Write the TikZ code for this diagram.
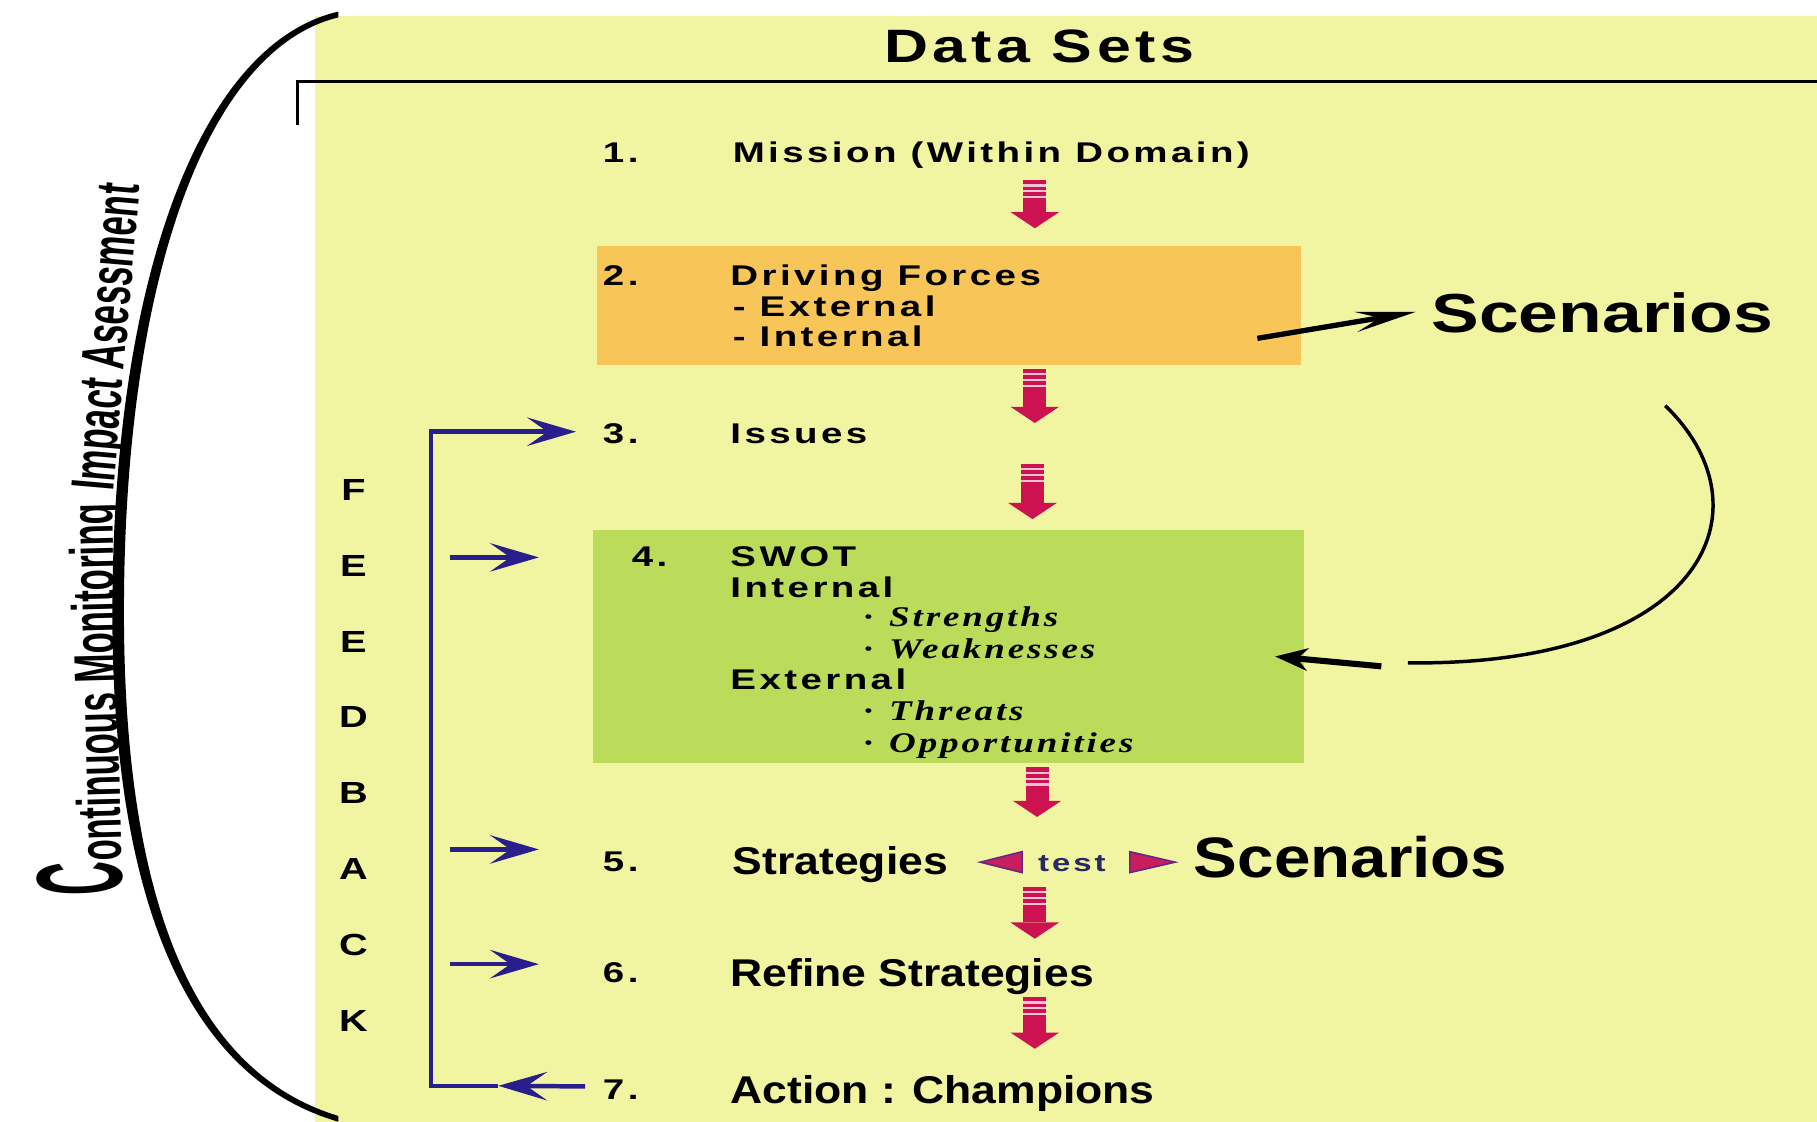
\documentclass[tikz,border=0pt]{standalone}
\usepackage{fontspec}
\setmainfont{Liberation Sans}
\newfontfamily\itemfont[FakeStretch=1.35,LetterSpace=12]{Liberation Sans}
\newfontfamily\titlefont[FakeStretch=1.3,LetterSpace=10]{Liberation Sans}
\newfontfamily\widefont[FakeStretch=1.3]{Liberation Sans}
\newfontfamily\rowfont[FakeStretch=1.15]{Liberation Sans}
\newfontfamily\swotfont[FakeStretch=1.3,LetterSpace=10]{Liberation Serif}
\newfontfamily\sidefont[FakeStretch=0.57]{Liberation Sans}
\newfontfamily\bigcfont[FakeStretch=0.38]{Liberation Sans}
\newcommand\bigcstyle{\bigcfont\bfseries\fontsize{60}{60}\selectfont}
\newcommand\sidestyle{\sidefont\bfseries\fontsize{30}{32}\selectfont}
\usetikzlibrary{arrows.meta,calc,fit}

\definecolor{bgyellow}{RGB}{241,244,160}
\definecolor{boxorange}{RGB}{248,198,88}
\definecolor{boxgreen}{RGB}{186,220,90}
\definecolor{arrred}{RGB}{205,18,82}
\definecolor{fbblue}{RGB}{40,30,140}
\definecolor{trifill}{RGB}{200,30,95}
\definecolor{triedge}{RGB}{100,40,130}
\definecolor{testblue}{RGB}{40,40,100}

\tikzset{
  item/.style={anchor=base west,inner sep=0pt,font=\itemfont\bfseries\fontsize{14}{16}\selectfont},
  rowitem/.style={anchor=base west,inner sep=0pt,font=\rowfont\bfseries\fontsize{19}{22}\selectfont},
  swotitem/.style={anchor=base west,inner sep=0pt,font=\swotfont\bfseries\itshape\fontsize{14}{16}\selectfont},
  fbletter/.style={anchor=base,inner sep=0pt,font=\widefont\bfseries\fontsize{15}{17}\selectfont},
  sidetext/.style={anchor=base west,inner sep=0pt},
  fbline/.style={draw=fbblue,line width=2.2pt},
  fbtip/.style={-{Stealth[length=24pt,width=14pt,inset=10pt]}},
  blackline/.style={draw=black,line width=1.7pt},
}

\begin{document}
\begin{tikzpicture}[x=0.02cm,y=-0.02cm]
	\useasboundingbox (0,0) rectangle (1568,968);
	\fill[white] (0,0) rectangle (1568,968);
	\fill[bgyellow] (272,14) rectangle (1568,968);
	% title and rule
	\node[anchor=base,inner sep=0pt,font=\titlefont\bfseries\fontsize{23}{26}\selectfont] (title) at (897,54) {Data Sets};
	\draw[line width=1.4pt] (257,108) -- (257,70) -- (1568,70);
	% boxes
	\node[fit={(515,212) (1123,315)},fill=boxorange,inner sep=0pt] (box2) {};
	\node[fit={(512,457) (1125,658)},fill=boxgreen,inner sep=0pt] (box4) {};
	% steps
	\node[item] (n1) at (520,140) {1.};
	\node[item] (t1) at (632,140) {Mission (Within Domain)};
	\node[item] (n2) at (520,246) {2.};
	\node[item] (t2) at (630,246) {Driving Forces};
	\node[item] (t2a) at (632,273) {- External};
	\node[item] (t2b) at (632,299) {- Internal};
	\node[item] (n3) at (520,383) {3.};
	\node[item] (t3) at (630,383) {Issues};
	\node[item] (n4) at (545,489) {4.};
	\node[item] (t4) at (630,489) {SWOT};
	\node[item] (t4a) at (630,516) {Internal};
	\node[item] (t4b) at (630,595) {External};
	\foreach \yy/\word in {541/Strengths,568/Weaknesses,622/Threats,649/Opportunities}{
		\node[swotitem] (sb-\word) at (745,\yy) {·};
		\node[swotitem] (sw-\word) at (767,\yy) {\word};
	}
	\node[item] (n5) at (520,752) {5.};
	\node[rowitem] (t5) at (632,755) {Strategies};
	\node[item] (n6) at (520,848) {6.};
	\node[rowitem] (t6) at (630,851) {Refine Strategies};
	\node[item] (n7) at (520,949) {7.};
	\node[rowitem] (t7) at (630,952) {Action : Champions};
	% red step arrows
	\foreach \ax/\at/\ab in {893/155/197, 893/318/365, 891/400/448, 895/662/705, 893/765/810, 893/860/905}{
		\fill[arrred] (\ax-10,\at) rectangle (\ax+10,\ab-14);
		\fill[arrred] (\ax-21,\ab-14) -- (\ax+21,\ab-14) -- (\ax,\ab) -- cycle;
		\foreach \s in {4,9,14}
			\fill[arrred!25] (\ax-10,\at+\s) rectangle (\ax+10,\at+\s+2);
	}
	% test
	\node[anchor=base,inner sep=0pt,text=testblue,font=\itemfont\bfseries\fontsize{12}{14}\selectfont] (test) at (925,752) {test};
	\filldraw[fill=trifill,draw=triedge,line width=0.8pt] (846,744) -- (882,735) -- (882,753) -- cycle;
	\filldraw[fill=trifill,draw=triedge,line width=0.8pt] (1014,744) -- (975,735) -- (975,753) -- cycle;
	\node[rowitem,font=\rowfont\bfseries\fontsize{28}{32}\selectfont] (scen2) at (1030,757) {Scenarios};
	% scenarios at the top
	\node[anchor=base west,inner sep=0pt,font=\widefont\bfseries\fontsize{27}{32}\selectfont] (scen1) at (1235,287) {Scenarios};
	\coordinate (ba) at (1085,292);
	\draw[blackline,line width=2.6pt,-{Stealth[length=30pt,width=10pt,inset=12pt]}] (ba) -- ($(scen1.west)+(-13,-1)$);
	\coordinate (cv1) at (1437,350);
	\coordinate (cv2) at (1215,572);
	\draw[blackline] (cv1) .. controls (1530,440) and (1470,575) .. (cv2);
	\coordinate (cv3) at (1192,575);
	\draw[blackline,line width=3pt,-{Stealth[length=16pt,width=11pt,inset=5pt]}] (cv3) -- ($(box4.east)+(-25,9)$);
	% feedback loop
	\foreach \ch [count=\i from 0] in {F,E,E,D,B,A,C,K}
		\node[fbletter] (fb\i) at (305,432+65.4*\i) {\ch};
	\coordinate (fbc) at (372,937);
	\coordinate (fbmid) at (430,937);
	\draw[fbline,fbtip] ($(n7.west)+(-15,-3)$) -- (fbmid);
	\draw[fbline,fbtip] (fbmid) -- (fbc) |- ($(n3.west)+(-23,-2)$);
	\foreach \yy/\nm in {481/e4,733/e5,832/e6}{
		\coordinate (\nm) at (388,\yy);
		\draw[fbline,fbtip] (\nm) -- ++(77,0);
	}
	% continuous monitoring bracket
	\fill (292,10) .. controls (170,38) and (95,250) .. (97,540) .. controls (99,790) and (168,932) .. (292,968)
		-- (292,963) .. controls (173,927) and (109,790) .. (107,540) .. controls (105,250) and (176,43) .. (292,15) -- cycle;
	\node[sidetext,rotate=91.5] (sideA) at (106,772) {{\bigcstyle C}{\sidestyle ontinuous Monitoring}};
	\node[sidetext,rotate=85] (sideB) at ($(sideA.base east)+(0.5,-9)$) {\sidestyle Impact Asessment};
\end{tikzpicture}
\end{document}
